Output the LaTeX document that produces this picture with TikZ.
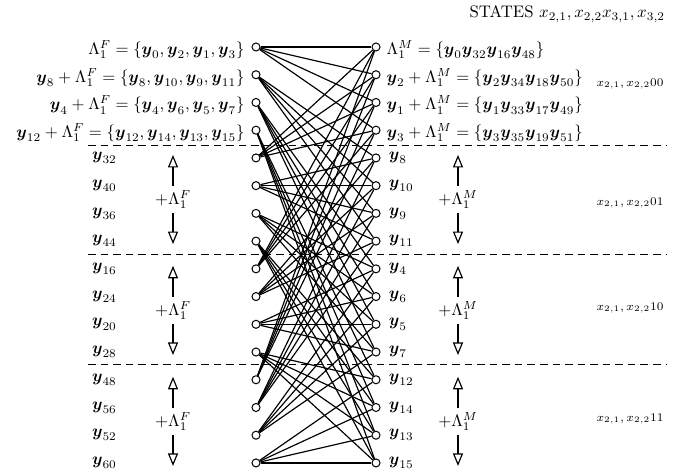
\documentclass[tikz,border=0pt]{standalone}
\usepackage{amsmath,amssymb}
\usepackage{xcolor}
\usepackage{tikz}
\usetikzlibrary{arrows.meta, positioning}
\newcommand{\yb}{\boldsymbol{y}}

\begin{document}
\begin{tikzpicture}[
    x=0.021cm, y=-0.021cm,
    portdot/.style={draw, circle, fill=white, inner sep=0pt,
                    minimum size=4.8pt, semithick},
    edgeline/.style={line width=0.7pt},
    bandline/.style={semithick, dash pattern=on 4.5pt off 3pt},
    cosetarrow/.style={-{Triangle[open, length=7.5pt, width=6pt]}, line width=0.7pt},
    setlbl/.style={inner sep=1pt},
    shiftlbl/.style={inner sep=2.5pt},
    statelbl/.style={inner sep=1pt, font=\scriptsize},
  ]
  \useasboundingbox (0,0) rectangle (693,472);

  % the two columns of cosets
  \foreach \i in {0,...,15} {
    \pgfmathsetmacro{\yy}{47+27.73*\i}
    \node[portdot] (l\i) at (256,\yy) {};
    \node[portdot] (r\i) at (376,\yy) {};
  }

  % each left coset meets four right cosets
  \foreach \i in {0,...,15} {
    \pgfmathtruncatemacro{\ba}{4*mod(\i,4)}
    \foreach \j in {0,...,3} {
      \pgfmathtruncatemacro{\k}{\ba+\j}
      \draw[edgeline] (l\i) -- (r\k);
    }
  }

  \node[setlbl, left=3pt of l0, yshift=-1.5pt] (fa0) {$\Lambda_1^F=\{\yb_0,\yb_2,\yb_1,\yb_3\}$};
  \node[setlbl, left=3pt of l1, yshift=-1.5pt] (fa1) {$\yb_8+\Lambda_1^F=\{\yb_8,\yb_{10},\yb_9,\yb_{11}\}$};
  \node[setlbl, left=3pt of l2, yshift=-1.5pt] (fa2) {$\yb_4+\Lambda_1^F=\{\yb_4,\yb_6,\yb_5,\yb_7\}$};
  \node[setlbl, left=3pt of l3, yshift=-1.5pt] (fa3) {$\yb_{12}+\Lambda_1^F=\{\yb_{12},\yb_{14},\yb_{13},\yb_{15}\}$};

  \node[setlbl, right=2.5pt of r0, yshift=-1.5pt] (ma0) {$\Lambda_1^M=\{\yb_0\yb_{32}\yb_{16}\yb_{48}\}$};
  \node[setlbl, right=2.5pt of r1, yshift=-1.5pt] (ma1) {$\yb_2+\Lambda_1^M=\{\yb_2\yb_{34}\yb_{18}\yb_{50}\}$};
  \node[setlbl, right=2.5pt of r2, yshift=-1.5pt] (ma2) {$\yb_1+\Lambda_1^M=\{\yb_1\yb_{33}\yb_{17}\yb_{49}\}$};
  \node[setlbl, right=2.5pt of r3, yshift=-1.5pt] (ma3) {$\yb_3+\Lambda_1^M=\{\yb_3\yb_{35}\yb_{19}\yb_{51}\}$};

  \foreach \i/\t in {4/32,5/40,6/36,7/44,8/16,9/24,10/20,11/28,12/48,13/56,14/52,15/60}
    \node[setlbl, anchor=west] (f\i) at (90,0 |- l\i) {$\yb_{\t}$};
  \foreach \i/\t in {4/8,5/10,6/9,7/11,8/4,9/6,10/5,11/7,12/12,13/14,14/13,15/15}
    \node[setlbl, right=3.8pt of r\i] (m\i) {$\yb_{\t}$};

  % coset shifts inside each band
  \foreach \g in {1,2,3} {
    \pgfmathsetmacro{\yc}{47+27.73*(4*\g+1.5)}
    \pgfmathsetmacro{\yt}{47+27.73*(4*\g)-3}
    \pgfmathsetmacro{\yd}{47+27.73*(4*\g+3)+3}
    \node[shiftlbl] (sf\g) at (173,\yc) {$+\Lambda_1^F$};
    \coordinate (sfa\g) at (173,\yt);
    \coordinate (sfb\g) at (173,\yd);
    \draw[cosetarrow] (sf\g) -- (sfa\g);
    \draw[cosetarrow] (sf\g) -- (sfb\g);
    \node[shiftlbl] (sm\g) at (458,\yc) {$+\Lambda_1^M$};
    \coordinate (sma\g) at (458,\yt);
    \coordinate (smb\g) at (458,\yd);
    \draw[cosetarrow] (sm\g) -- (sma\g);
    \draw[cosetarrow] (sm\g) -- (smb\g);
  }

  % band separators
  \foreach \s/\r in {1/3.55,2/7.5,3/11.45} {
    \pgfmathsetmacro{\ys}{47+27.73*\r}
    \coordinate (bl\s) at (88,\ys);
    \coordinate (br\s) at (667,\ys);
    \draw[bandline] (bl\s) -- (br\s);
  }

  \node[setlbl, anchor=east] (states) at (667,14) {STATES $x_{2,1},x_{2,2}x_{3,1},x_{3,2}$};
  \node[statelbl] (st0) at (630,84) {$x_{2,1},x_{2,2}00$};
  \node[statelbl] (st1) at (630,203) {$x_{2,1},x_{2,2}01$};
  \node[statelbl] (st2) at (630,308) {$x_{2,1},x_{2,2}10$};
  \node[statelbl] (st3) at (630,419) {$x_{2,1},x_{2,2}11$};
\end{tikzpicture}
\end{document}
